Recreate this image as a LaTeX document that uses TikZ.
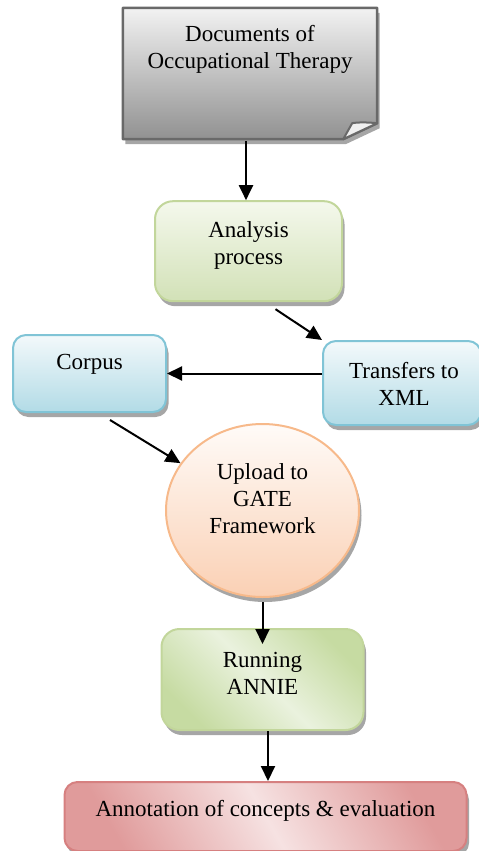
\documentclass[tikz,border=0pt]{standalone}
\usepackage{fontspec}
\setmainfont{Liberation Serif}
\usetikzlibrary{arrows.meta, positioning, shapes.geometric, shadows}

\definecolor{DocLine}{RGB}{105,105,105}
\definecolor{DocTop}{RGB}{242,242,242}
\definecolor{DocBottom}{RGB}{145,145,145}
\definecolor{LeafTop}{RGB}{244,248,236}
\definecolor{LeafBottom}{RGB}{210,225,183}
\definecolor{LeafLine}{RGB}{194,214,155}
\definecolor{LeafDark}{RGB}{198,219,162}
\definecolor{LeafLight}{RGB}{234,242,222}
\definecolor{SkyTop}{RGB}{243,249,251}
\definecolor{SkyBottom}{RGB}{178,219,230}
\definecolor{SkyLine}{RGB}{128,196,214}
\definecolor{PeachTop}{RGB}{255,251,248}
\definecolor{PeachBottom}{RGB}{250,208,180}
\definecolor{PeachLine}{RGB}{247,185,138}
\definecolor{RoseDark}{RGB}{224,155,155}
\definecolor{RoseLight}{RGB}{246,226,226}
\definecolor{RoseLine}{RGB}{214,128,128}
\definecolor{ShadeGray}{RGB}{150,150,150}

\begin{document}
\begin{tikzpicture}[x=1pt, y=-1pt,
    every node/.style={font=\fontsize{23}{27}\selectfont},
    box/.style={draw, rectangle, rounded corners=13pt, line width=2pt, inner sep=0pt,
      drop shadow={shadow xshift=2.5pt, shadow yshift=-5pt, fill=ShadeGray, opacity=0.85}},
    lbl/.style={align=center, inner sep=0pt},
    arr/.style={-{Triangle[length=15pt, width=14pt]}, line width=2pt}]
    \useasboundingbox (0,0) rectangle (479,851);

    % folded page
    \node[inner sep=0pt, minimum width=254pt, minimum height=131pt] (doc) at (250,73.5) {};
    \path[draw=DocLine, line width=2.5pt, line join=round, top color=DocTop, bottom color=DocBottom,
      drop shadow={shadow xshift=2.5pt, shadow yshift=-5pt, fill=ShadeGray, opacity=0.85}]
      (doc.north west) -- (doc.north east) -- ([yshift=16pt]doc.south east)
      -- ([xshift=-34pt]doc.south east) -- (doc.south west) -- cycle;
    \filldraw[fill=gray!12, draw=DocLine, line width=2pt, line join=round]
      ([yshift=16pt]doc.south east) .. controls ([xshift=-10pt,yshift=17pt]doc.south east)
      and ([xshift=-20pt,yshift=17pt]doc.south east) .. ([xshift=-25pt,yshift=16pt]doc.south east)
      -- ([xshift=-34pt]doc.south east) -- cycle;
    \node[lbl] (doctext) at ([yshift=24pt]doc.center) {Documents of\\Occupational Therapy};

    \node[box, rounded corners=18pt, draw=LeafLine, top color=LeafTop, bottom color=LeafBottom,
      minimum width=187pt, minimum height=100pt, below=61pt of doc, xshift=-1.5pt] (analysis) {};
    \node[lbl] (analysistext) at ([yshift=6pt]analysis.center) {Analysis\\process};

    \node[box, draw=SkyLine, top color=SkyTop, bottom color=SkyBottom,
      minimum width=158pt, minimum height=84pt] (transfers) at (402,383) {};
    \node[lbl] (transferstext) at ([xshift=2pt,yshift=-1pt]transfers.center) {Transfers to\\XML};

    \node[box, draw=SkyLine, top color=SkyTop, bottom color=SkyBottom,
      minimum width=153pt, minimum height=77pt] (corpus) at (89.5,373.5) {};
    \node[lbl] (corpustext) at ([yshift=9pt]corpus.center) {Corpus};

    \node[box, ellipse, draw=PeachLine, top color=PeachTop, bottom color=PeachBottom,
      minimum width=193pt, minimum height=173pt] (gate) at (262.5,510.5) {};
    \node[lbl] (gatetext) at ([yshift=12pt]gate.center) {Upload to\\GATE\\Framework};

    \node[box, rounded corners=18pt, draw=LeafLine, top color=LeafDark, bottom color=LeafDark,
      middle color=LeafLight, shading angle=-45,
      minimum width=202pt, minimum height=101pt, below=30pt of gate] (annie) {};
    \node[lbl] (annietext) at ([yshift=6pt]annie.center) {Running\\ANNIE};

    \node[box, draw=RoseLine, top color=RoseDark, bottom color=RoseDark,
      middle color=RoseLight, shading angle=-60,
      minimum width=402pt, minimum height=69pt, below=50pt of annie, xshift=3pt] (annotation) {};
    \node[lbl] (annotationtext) at ([yshift=6pt]annotation.center) {Annotation of concepts \& evaluation};

    \draw[arr] ([xshift=-4pt,yshift=-2pt]doc.south) -- ([xshift=-4pt]doc.south |- analysis.north);
    \draw[arr] ([xshift=27pt,yshift=-7pt]analysis.south) -- (transfers.north west);
    \draw[arr] (transfers.west |- corpus.east) -- (corpus.east);
    \draw[arr] ([xshift=20.5pt,yshift=-7pt]corpus.south) -- (gate.150);
    \draw[arr] ([yshift=-4pt]gate.south) -- ([yshift=-16pt]annie.north);
    \draw[arr] ([xshift=5.5pt]annie.south) -- ([xshift=5.5pt]annie.south |- annotation.north);
\end{tikzpicture}
\end{document}
